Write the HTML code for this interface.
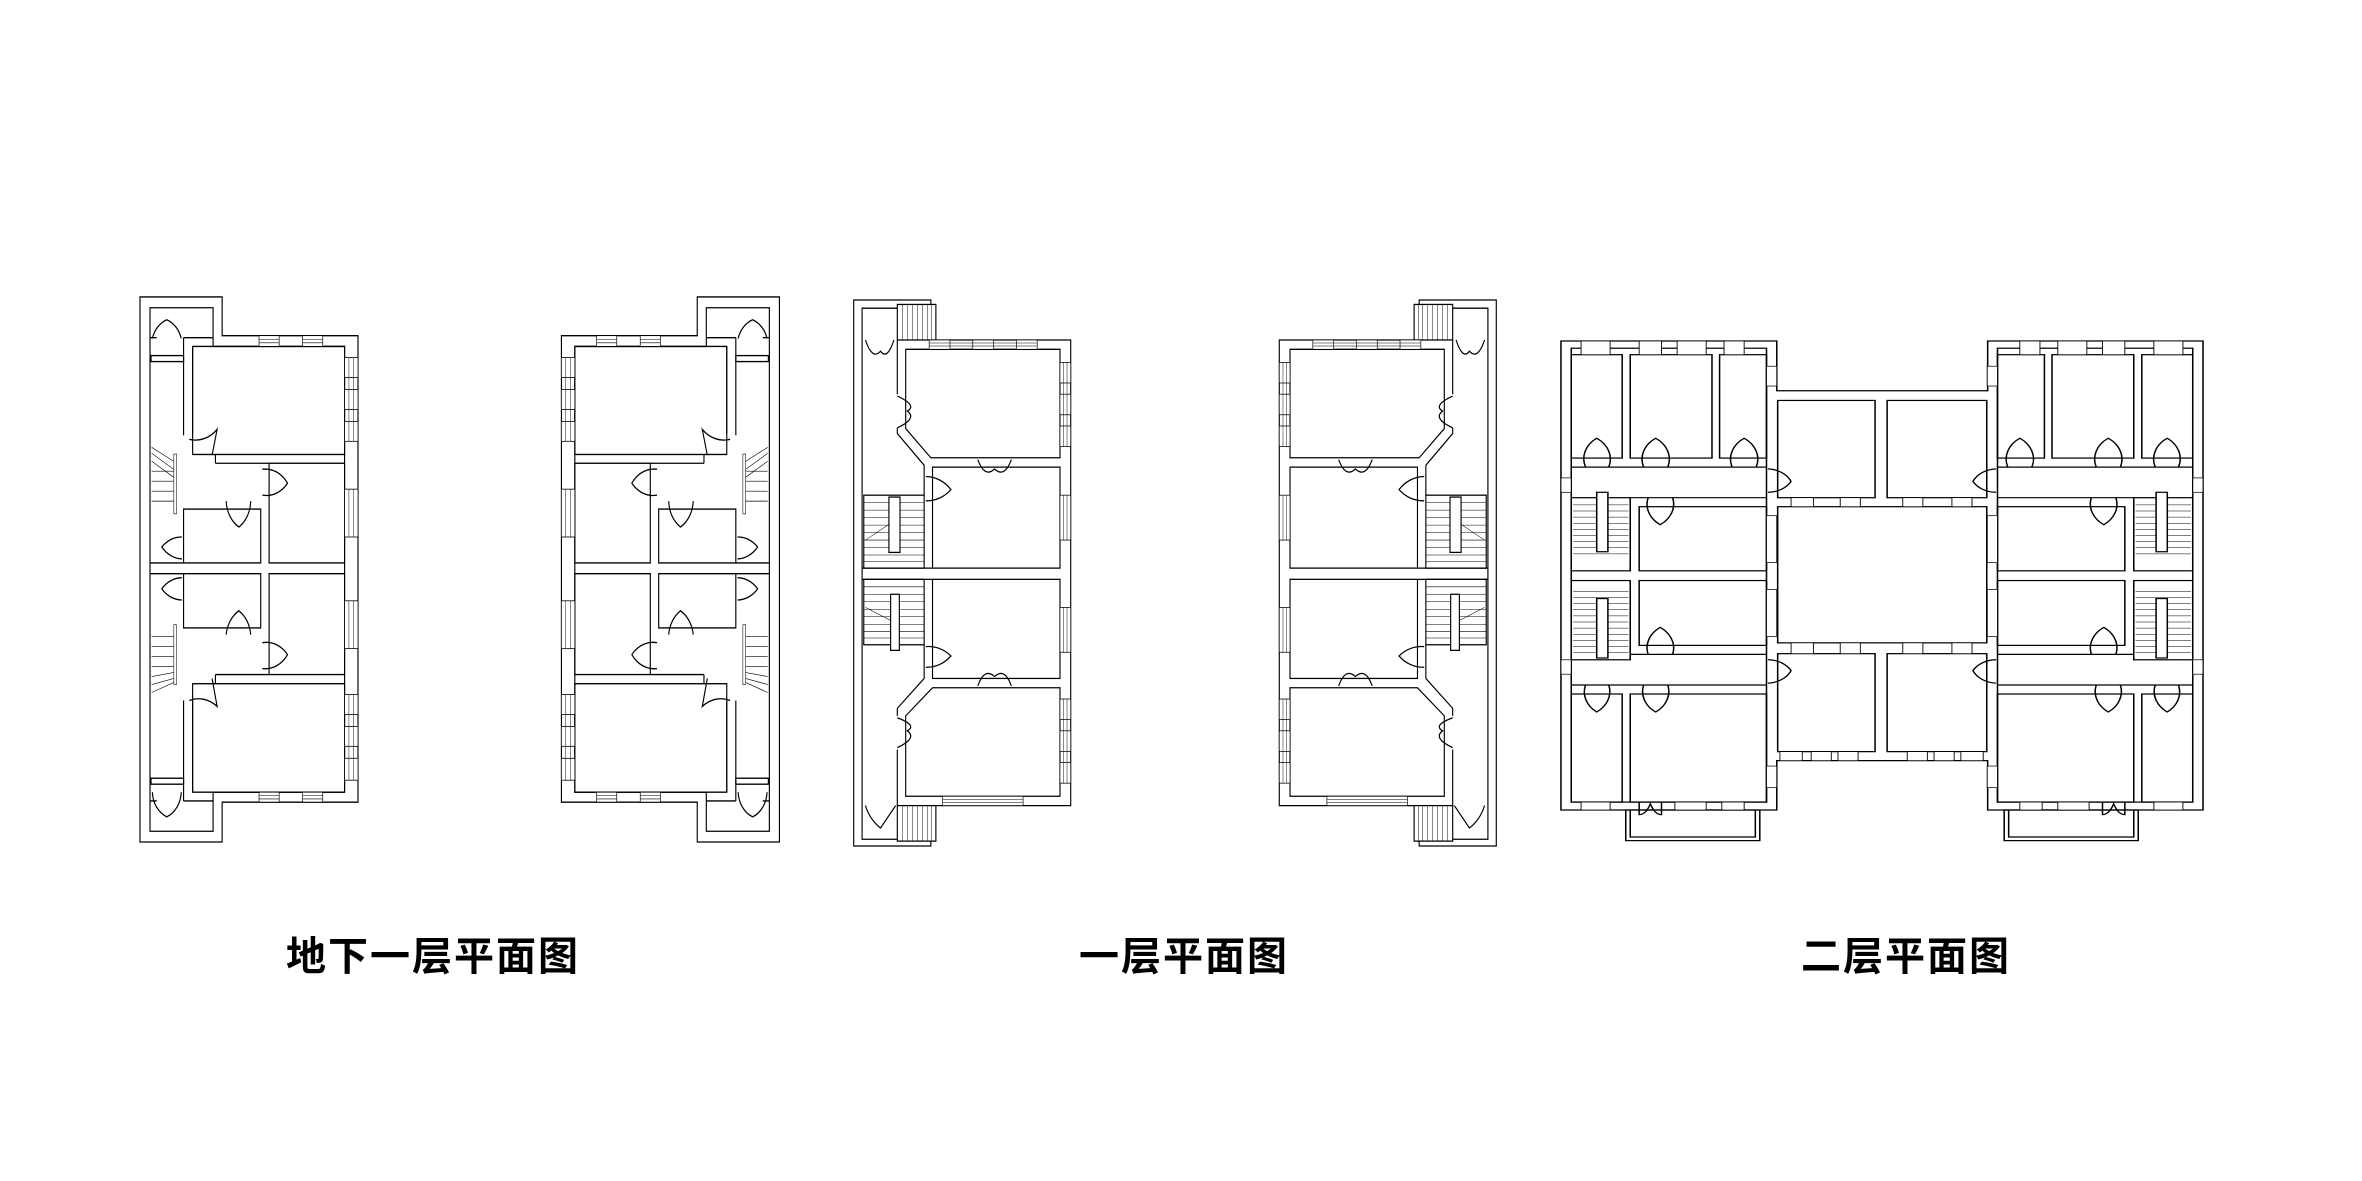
<!DOCTYPE html>
<html><head><meta charset="utf-8"><style>
html,body{margin:0;padding:0;background:#fff;}
svg{display:block}
.s *{vector-effect:non-scaling-stroke}
text{font-family:"Liberation Sans","Noto Sans CJK SC",sans-serif;font-weight:bold;font-size:40px;fill:#000}
</style></head><body>
<svg width="2362" height="1181" viewBox="0 0 2362 1181" xmlns="http://www.w3.org/2000/svg">
<defs>
<g id="planA" fill="none" stroke="#000" stroke-width="3.4">
  <polygon points="115,88 360,88 360,185 765,185 765,1355 360,1355 360,1455 115,1455" fill="#fff"/>
  <polygon points="145,115 333,115 333,212 725,212 725,1330 333,1330 333,1428 145,1428"/>
  <line x1="245" y1="190" x2="333" y2="190"/><line x1="145" y1="190" x2="165" y2="190"/>
  <line x1="245" y1="1352" x2="333" y2="1352"/><line x1="145" y1="1352" x2="165" y2="1352"/>
  <rect x="148" y="235" width="97" height="15"/><rect x="148" y="1295" width="97" height="15"/>
  <line x1="245" y1="190" x2="245" y2="435"/><line x1="272" y1="212" x2="272" y2="430"/>
  <line x1="245" y1="1100" x2="245" y2="1352"/><line x1="272" y1="1100" x2="272" y2="1330"/>
  <rect x="272" y="212" width="453" height="271"/>
  <rect x="500" y="505" width="225" height="250"/>
  <rect x="245" y="620" width="230" height="135"/>
  <rect x="245" y="782" width="230" height="136"/>
  <rect x="500" y="782" width="225" height="253"/>
  <rect x="272" y="1058" width="453" height="272"/>
  <line x1="145" y1="755" x2="245" y2="755"/><line x1="145" y1="782" x2="245" y2="782"/>
  <line x1="340" y1="483" x2="340" y2="505"/><line x1="340" y1="505" x2="500" y2="505"/>
  <line x1="340" y1="1035" x2="500" y2="1035"/><line x1="340" y1="1035" x2="340" y2="1058"/>
  <g stroke-width="1.6">
   <line x1="150" y1="465" x2="215" y2="500"/><line x1="150" y1="480" x2="215" y2="520"/><line x1="150" y1="500" x2="215" y2="540"/>
   <line x1="150" y1="525" x2="215" y2="525"/><line x1="150" y1="550" x2="215" y2="550"/><line x1="150" y1="575" x2="215" y2="575"/><line x1="150" y1="600" x2="215" y2="600"/>
   <line x1="150" y1="940" x2="215" y2="940"/><line x1="150" y1="965" x2="215" y2="965"/><line x1="150" y1="990" x2="215" y2="990"/><line x1="150" y1="1015" x2="215" y2="1015"/>
   <line x1="150" y1="1040" x2="215" y2="1030"/><line x1="150" y1="1060" x2="215" y2="1045"/><line x1="150" y1="1080" x2="215" y2="1055"/>
   <rect x="216" y="482" width="8" height="150"/><rect x="216" y="910" width="8" height="150"/>
  </g>
  <path d="M152,192 A70,70 0 0 1 195,145 A70,70 0 0 1 238,192"/>
  <path d="M152,1330 A70,70 0 0 0 195,1392 A70,70 0 0 0 238,1330"/>
  <path d="M262,445 A90,90 0 0 0 345,420 L330,485"/>
  <path d="M480,520 A80,80 0 0 1 555,555 A80,80 0 0 1 480,585"/>
  <path d="M372,600 A80,80 0 0 0 410,665 A80,80 0 0 0 445,600"/>
  <path d="M240,690 A80,80 0 0 0 180,715 A80,80 0 0 0 240,745"/>
  <path d="M240,792 A80,80 0 0 0 180,820 A80,80 0 0 0 240,848"/>
  <path d="M372,935 A80,80 0 0 1 410,875 A80,80 0 0 1 445,935"/>
  <path d="M480,955 A80,80 0 0 1 555,985 A80,80 0 0 1 480,1020"/>
  <path d="M262,1100 A90,90 0 0 1 345,1115 L330,1045"/>
  <g fill="#fff" stroke-width="2">
   <rect x="725" y="240" width="40" height="50"/><rect x="725" y="320" width="40" height="50"/><rect x="725" y="400" width="40" height="50"/>
   <rect x="725" y="570" width="40" height="120"/><rect x="725" y="850" width="40" height="120"/>
   <rect x="725" y="1085" width="40" height="50"/><rect x="725" y="1165" width="40" height="50"/><rect x="725" y="1245" width="40" height="55"/>
   <rect x="470" y="185" width="60" height="27"/><rect x="600" y="185" width="60" height="27"/>
   <rect x="470" y="1330" width="60" height="25"/><rect x="600" y="1330" width="60" height="25"/>
  </g>
  <g stroke-width="1.4">
   <line x1="738" y1="240" x2="738" y2="450"/><line x1="752" y1="240" x2="752" y2="450"/>
   <line x1="738" y1="570" x2="738" y2="690"/><line x1="752" y1="570" x2="752" y2="690"/>
   <line x1="738" y1="850" x2="738" y2="970"/><line x1="752" y1="850" x2="752" y2="970"/>
   <line x1="738" y1="1085" x2="738" y2="1300"/><line x1="752" y1="1085" x2="752" y2="1300"/>
   <line x1="470" y1="194" x2="530" y2="194"/><line x1="470" y1="203" x2="530" y2="203"/>
   <line x1="600" y1="194" x2="660" y2="194"/><line x1="600" y1="203" x2="660" y2="203"/>
   <line x1="470" y1="1338" x2="530" y2="1338"/><line x1="470" y1="1347" x2="530" y2="1347"/>
   <line x1="600" y1="1338" x2="660" y2="1338"/><line x1="600" y1="1347" x2="660" y2="1347"/>
  </g>
</g>

<g id="planC" fill="none" stroke="#000" stroke-width="3.4">
  <polygon points="20,48 250,48 250,155 667,155 667,1400 250,1400 250,1508 20,1508" fill="#fff"/>
  <polyline points="250,70 45,70 45,1490 250,1490"/>
  <rect x="150" y="60" width="115" height="95" fill="#fff"/>
  <rect x="150" y="1400" width="115" height="95" fill="#fff"/>
  <g stroke-width="1.4">
   <line x1="165" y1="60" x2="165" y2="155"/><line x1="180" y1="60" x2="180" y2="155"/><line x1="195" y1="60" x2="195" y2="155"/><line x1="210" y1="60" x2="210" y2="155"/><line x1="225" y1="60" x2="225" y2="155"/><line x1="240" y1="60" x2="240" y2="155"/><line x1="252" y1="60" x2="252" y2="155"/>
   <line x1="165" y1="1400" x2="165" y2="1495"/><line x1="180" y1="1400" x2="180" y2="1495"/><line x1="195" y1="1400" x2="195" y2="1495"/><line x1="210" y1="1400" x2="210" y2="1495"/><line x1="225" y1="1400" x2="225" y2="1495"/><line x1="240" y1="1400" x2="240" y2="1495"/><line x1="252" y1="1400" x2="252" y2="1495"/>
  </g>
  <polygon points="175,180 635,180 635,470 385,470 250,470 175,392"/>
  <polyline points="150,155 150,300"/><polyline points="150,390 150,405 230,490 230,570"/>
  <rect x="255" y="495" width="380" height="270"/>
  <rect x="255" y="795" width="380" height="265"/>
  <polygon points="175,1375 635,1375 635,1085 255,1085 175,1160"/>
  <polyline points="230,970 230,1060 150,1140 150,1160"/><polyline points="150,1250 150,1400"/>
  <line x1="45" y1="765" x2="255" y2="765"/><line x1="45" y1="795" x2="255" y2="795"/>
  <rect x="50" y="570" width="180" height="195"/><rect x="50" y="795" width="180" height="175"/>
  <g stroke-width="1.4">
   <line x1="50" y1="590" x2="230" y2="590"/><line x1="50" y1="610" x2="230" y2="610"/><line x1="50" y1="630" x2="230" y2="630"/><line x1="50" y1="650" x2="230" y2="650"/><line x1="50" y1="670" x2="230" y2="670"/><line x1="50" y1="690" x2="230" y2="690"/><line x1="50" y1="710" x2="230" y2="710"/><line x1="50" y1="730" x2="230" y2="730"/><line x1="50" y1="748" x2="230" y2="748"/>
   <line x1="50" y1="815" x2="230" y2="815"/><line x1="50" y1="835" x2="230" y2="835"/><line x1="50" y1="855" x2="230" y2="855"/><line x1="50" y1="875" x2="230" y2="875"/><line x1="50" y1="895" x2="230" y2="895"/><line x1="50" y1="915" x2="230" y2="915"/><line x1="50" y1="935" x2="230" y2="935"/><line x1="50" y1="952" x2="230" y2="952"/>
   <line x1="55" y1="690" x2="130" y2="645"/><line x1="55" y1="870" x2="130" y2="905"/>
  </g>
  <rect x="125" y="575" width="33" height="148" fill="#fff"/><rect x="130" y="835" width="26" height="150" fill="#fff"/>
  <path d="M55,155 Q75,210 100,185 Q120,210 140,155"/>
  <path d="M150,305 Q210,330 180,345 Q210,365 150,390"/>
  <path d="M390,475 Q410,525 440,500 Q470,525 490,475"/>
  <path d="M235,520 A100,100 0 0 1 310,555 A100,100 0 0 1 235,585"/>
  <path d="M235,975 A100,100 0 0 1 310,1000 A100,100 0 0 1 235,1030"/>
  <path d="M390,1080 Q410,1030 440,1055 Q470,1030 490,1080"/>
  <path d="M150,1165 Q210,1185 180,1200 Q210,1220 150,1245"/>
  <path d="M55,1400 A120,120 0 0 0 100,1460 L145,1400"/>
  <g fill="#fff" stroke-width="2">
   <rect x="245" y="155" width="62" height="25"/><rect x="375" y="155" width="62" height="25"/><rect x="505" y="155" width="62" height="25"/>
   <rect x="635" y="215" width="32" height="55"/><rect x="635" y="300" width="32" height="55"/><rect x="635" y="385" width="32" height="55"/>
   <rect x="635" y="570" width="32" height="120"/><rect x="635" y="870" width="32" height="120"/>
   <rect x="635" y="1115" width="32" height="55"/><rect x="635" y="1200" width="32" height="55"/><rect x="635" y="1285" width="32" height="55"/>
   <rect x="285" y="1375" width="240" height="25"/>
  </g>
  <g stroke-width="1.4">
   <line x1="646" y1="215" x2="646" y2="440"/><line x1="656" y1="215" x2="656" y2="440"/>
   <line x1="646" y1="570" x2="646" y2="690"/><line x1="656" y1="570" x2="656" y2="690"/>
   <line x1="646" y1="870" x2="646" y2="990"/><line x1="656" y1="870" x2="656" y2="990"/>
   <line x1="646" y1="1115" x2="646" y2="1340"/><line x1="656" y1="1115" x2="656" y2="1340"/>
   <line x1="245" y1="163" x2="567" y2="163"/><line x1="245" y1="171" x2="567" y2="171"/>
   <line x1="285" y1="1383" x2="525" y2="1383"/><line x1="285" y1="1391" x2="525" y2="1391"/>
  </g>
</g>

<g id="wingE" fill="none" stroke="#000" stroke-width="3.4">
  <rect x="48" y="70" width="437" height="1260"/>
  <rect x="48" y="88" width="114" height="287"/><rect x="180" y="88" width="183" height="287"/><rect x="380" y="88" width="105" height="287"/>
  <line x1="48" y1="400" x2="485" y2="400"/>
  <rect x="48" y="485" width="132" height="203"/><rect x="200" y="510" width="285" height="178"/>
  <line x1="180" y1="485" x2="485" y2="485"/>
  <rect x="48" y="715" width="132" height="220"/><rect x="200" y="715" width="285" height="180"/>
  <line x1="180" y1="920" x2="485" y2="920"/>
  <line x1="48" y1="1005" x2="485" y2="1005"/>
  <rect x="48" y="1030" width="114" height="300"/><rect x="180" y="1030" width="305" height="300"/>
  <g stroke-width="1.4">
   <line x1="52" y1="505" x2="176" y2="505"/><line x1="52" y1="522" x2="176" y2="522"/><line x1="52" y1="539" x2="176" y2="539"/><line x1="52" y1="556" x2="176" y2="556"/><line x1="52" y1="573" x2="176" y2="573"/><line x1="52" y1="590" x2="176" y2="590"/><line x1="52" y1="607" x2="176" y2="607"/><line x1="52" y1="624" x2="176" y2="624"/><line x1="52" y1="641" x2="176" y2="641"/>
   <line x1="52" y1="745" x2="176" y2="745"/><line x1="52" y1="762" x2="176" y2="762"/><line x1="52" y1="779" x2="176" y2="779"/><line x1="52" y1="796" x2="176" y2="796"/><line x1="52" y1="813" x2="176" y2="813"/><line x1="52" y1="830" x2="176" y2="830"/><line x1="52" y1="847" x2="176" y2="847"/><line x1="52" y1="864" x2="176" y2="864"/><line x1="52" y1="881" x2="176" y2="881"/><line x1="52" y1="898" x2="176" y2="898"/><line x1="52" y1="915" x2="176" y2="915"/>
  </g>
  <rect x="105" y="470" width="25" height="165" fill="#fff"/><rect x="105" y="765" width="25" height="165" fill="#fff"/>
  <path d="M80,400 A70,70 0 0 1 105,320 A70,70 0 0 1 132,400"/>
  <path d="M210,400 A70,70 0 0 1 237,320 A70,70 0 0 1 264,400"/>
  <path d="M408,400 A70,70 0 0 1 435,320 A70,70 0 0 1 462,400"/>
  <path d="M220,485 A70,70 0 0 0 247,560 A70,70 0 0 0 275,485"/>
  <path d="M220,920 A70,70 0 0 1 247,845 A70,70 0 0 1 275,920"/>
  <path d="M80,1005 A70,70 0 0 0 105,1080 A70,70 0 0 0 132,1005"/>
  <path d="M210,1005 A70,70 0 0 0 237,1080 A70,70 0 0 0 264,1005"/>
  <path d="M488,405 A60,60 0 0 1 540,440 A60,60 0 0 1 488,470"/>
  <path d="M488,935 A60,60 0 0 1 540,965 A60,60 0 0 1 488,1000"/>
  <path d="M200,1330 L200,1365 Q215,1365 225,1335 Q235,1365 250,1365 L250,1330"/>
  <rect x="170" y="1352" width="300" height="85"/><polyline points="180,1352 180,1427 460,1427 460,1352"/>
  <g fill="#fff" stroke-width="2">
   <rect x="70" y="50" width="65" height="38"/><rect x="200" y="50" width="50" height="38"/><rect x="285" y="50" width="65" height="38"/><rect x="390" y="50" width="45" height="38"/>
   <rect x="70" y="1330" width="65" height="22"/><rect x="280" y="1330" width="70" height="22"/><rect x="385" y="1330" width="50" height="22"/>
   <rect x="485" y="120" width="23" height="55"/><rect x="485" y="535" width="23" height="130"/><rect x="485" y="740" width="23" height="130"/><rect x="485" y="1230" width="23" height="60"/>
   <rect x="25" y="430" width="23" height="40"/><rect x="25" y="935" width="23" height="40"/>
  </g>
</g>

<g id="planE" fill="none" stroke="#000" stroke-width="3.4">
  <polygon points="25,50 508,50 508,188 980,188 980,50 1462,50 1462,1352 980,1352 980,1215 508,1215 508,1352 25,1352" fill="#fff"/>
  <use href="#wingE"/>
  <use href="#wingE" transform="matrix(-1,0,0,1,1487,0)"/>
  <rect x="510" y="215" width="218" height="270"/><rect x="755" y="215" width="223" height="270"/>
  <rect x="510" y="510" width="468" height="378"/>
  <rect x="510" y="918" width="218" height="272"/><rect x="755" y="918" width="223" height="272"/>
  <g fill="#fff" stroke-width="2">
   <rect x="540" y="485" width="50" height="25"/><rect x="650" y="485" width="45" height="25"/><rect x="790" y="485" width="45" height="25"/><rect x="900" y="485" width="45" height="25"/>
   <rect x="540" y="888" width="50" height="30"/><rect x="650" y="888" width="45" height="30"/><rect x="790" y="888" width="45" height="30"/><rect x="900" y="888" width="45" height="30"/>
   <rect x="515" y="1190" width="50" height="25"/><rect x="585" y="1190" width="45" height="25"/><rect x="645" y="1190" width="45" height="25"/>
   <rect x="800" y="1190" width="45" height="25"/><rect x="860" y="1190" width="45" height="25"/><rect x="920" y="1190" width="50" height="25"/>
  </g>
</g>
</defs>

<use href="#planA" class="s" transform="matrix(0.3354,0,0,0.3987,101.4,261.9)"/>
<use href="#planA" class="s" transform="matrix(-0.3354,0,0,0.3987,818,261.9)"/>
<use href="#planC" class="s" transform="matrix(0.3354,0,0,0.374,847,282)"/>
<use href="#planC" class="s" transform="matrix(-0.3354,0,0,0.374,1503,282)"/>
<use href="#planE" class="s" transform="matrix(0.4468,0,0,0.3602,1549.8,323)"/>

<text x="433" y="970" text-anchor="middle" letter-spacing="2">地下一层平面图</text>
<text x="1184" y="970" text-anchor="middle" letter-spacing="2">一层平面图</text>
<text x="1906" y="970" text-anchor="middle" letter-spacing="2">二层平面图</text>
</svg>
</body></html>
